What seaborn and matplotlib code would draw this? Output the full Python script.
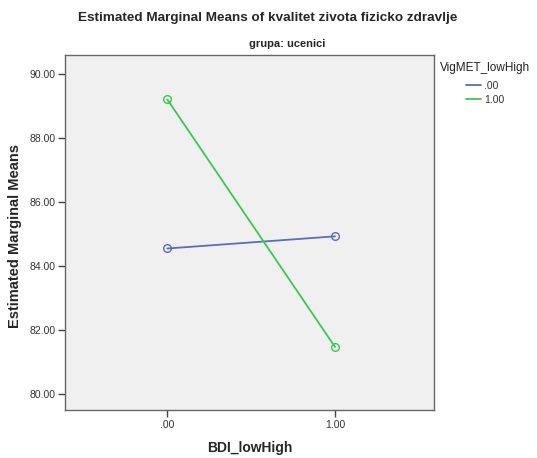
import matplotlib
matplotlib.use("Agg")
import matplotlib.pyplot as plt
import seaborn as sns
import pandas as pd
from matplotlib.lines import Line2D

# Estimated marginal means of physical health quality of life (grupa: ucenici)
bdi_levels = [0.0, 1.0]
vig_levels = [".00", "1.00"]
means_vig_low = [84.55, 84.93]
means_vig_high = [89.21, 81.47]
y_ticks = [80, 82, 84, 86, 88, 90]
x_tick_labels = [".00", "1.00"]

df = pd.DataFrame({
    "BDI_lowHigh": bdi_levels * 2,
    "VigMET_lowHigh": [vig_levels[0]] * 2 + [vig_levels[1]] * 2,
    "mean": means_vig_low + means_vig_high,
})

sns.set_theme(style="white")
plt.rcParams["font.family"] = ["Liberation Sans", "DejaVu Sans"]

W, H = 537, 458
fig = plt.figure(figsize=(W / 100, H / 100), dpi=100)
L, R, T, B = 65, 434, 55, 410
ax = fig.add_axes([L / W, 1 - B / H, (R - L) / W, (B - T) / H])
ax.set_facecolor("#f0f0f0")

palette = {".00": "#5a6cc0", "1.00": "#3cc850"}
sns.lineplot(data=df, x="BDI_lowHigh", y="mean", hue="VigMET_lowHigh",
             palette=palette, marker="o", markersize=5.5, markerfacecolor="none",
             markeredgewidth=1.0, linewidth=1.3, ax=ax, legend=False)
for line in ax.get_lines():
    line.set_markeredgecolor(line.get_color())

ax.set_xlim(-0.61, 1.59)
ax.set_ylim(79.5, 90.6)
ax.set_xticks(bdi_levels)
ax.set_xticklabels(x_tick_labels)
ax.set_yticks(y_ticks)
ax.set_yticklabels([f"{v:.2f}" for v in y_ticks])
ax.tick_params(axis="both", which="major", direction="out", length=5, width=1,
               color="#444444", labelsize=7.5, labelcolor="#333333", pad=2,
               left=True, bottom=True)

for s in ax.spines.values():
    s.set_color("#666666")
    s.set_linewidth(1.0)

ax.set_xlabel("BDI_lowHigh", fontsize=10, fontweight="bold")
ax.set_ylabel("Estimated Marginal Means", fontsize=10.5, fontweight="bold")
ax.xaxis.set_label_coords((250 - L) / (R - L), (B - 448) / (B - T))
ax.yaxis.set_label_coords((15 - L) / (R - L), (B - 236) / (B - T))
ax.xaxis.label.set_va("center")
ax.yaxis.label.set_va("center")

fig.text(268 / W, 1 - 18 / H,
         "Estimated Marginal Means of kvalitet zivota fizicko zdravlje",
         ha="center", va="center", fontsize=9.7, fontweight="bold")
fig.text(287 / W, 1 - 44 / H, "grupa: ucenici",
         ha="center", va="center", fontsize=8, fontweight="bold")

# Legend: title plus indented entries
fig.text(440 / W, 1 - 68 / H, "VigMET_lowHigh", ha="left", va="center",
         fontsize=8.5, color="#222222")
handles = [Line2D([0], [0], color=palette[v], linewidth=1.3) for v in vig_levels]
leg = fig.legend(handles, vig_levels, loc="upper left",
                 bbox_to_anchor=(466 / W, 1 - 81 / H),
                 frameon=False, fontsize=7.5,
                 handlelength=1.4, handletextpad=0.3, labelspacing=0.35,
                 borderpad=0.0, borderaxespad=0.0)
for t in leg.get_texts():
    t.set_color("#333333")

fig.savefig("out.png", dpi=100)
